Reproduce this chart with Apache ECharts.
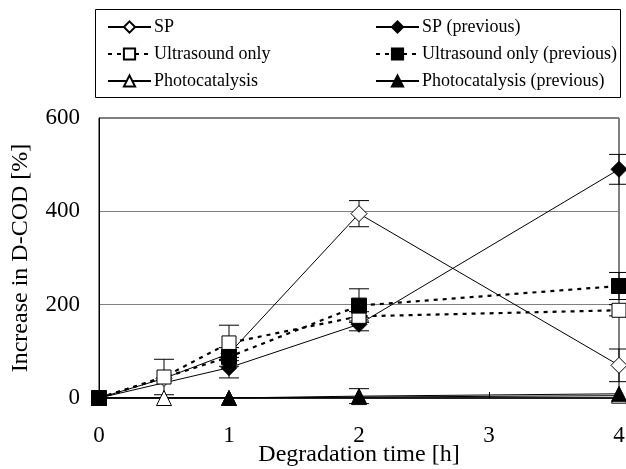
<!DOCTYPE html>
<html>
<head>
<meta charset="utf-8">
<script src="https://cdn.jsdelivr.net/npm/echarts@6/dist/echarts.min.js"></script>
<style>
html, body { margin: 0; padding: 0; background: #fff; }
#chart { width: 626px; height: 469px; }
</style>
</head>
<body>
<div id="chart"></div>
<script>
// data
var names = ['SP', 'SP (previous)', 'Ultrasound only', 'Ultrasound only (previous)', 'Photocatalysis', 'Photocatalysis (previous)'];

var spX = [0, 0.5, 1, 2, 4];
var spY = [0, 42, 95, 395, 70];
var spErr = [0, 0, 0, 28, 35];

var spPrevX = [0, 1, 2, 4];
var spPrevY = [0, 65, 158, 490];
var spPrevErr = [0, 22, 14, 32];

var usX = [0, 0.5, 1, 2, 4];
var usY = [0, 45, 118, 175, 188];
var usErr = [0, 38, 38, 10, 12];

var usPrevX = [0, 1, 2, 4];
var usPrevY = [0, 88, 198, 240];
var usPrevErr = [0, 20, 36, 29];

var pcX = [0, 0.5, 1, 2, 4];
var pcY = [0, 0, 0, 2, 5];
var pcErr = [0, 0, 0, 0, 0];

var pcPrevX = [0, 1, 2, 4];
var pcPrevY = [0, 0, 4, 9];
var pcPrevErr = [0, 0, 16, 0];

var font = 'Liberation Serif';

function pairs(xs, ys) {
    var out = [];
    for (var i = 0; i < xs.length; i++) out.push([xs[i], ys[i]]);
    return out;
}

function errRows(xs, ys, es) {
    var out = [];
    for (var i = 0; i < xs.length; i++) {
        if (es[i] > 0) out.push([xs[i], ys[i] - es[i], ys[i] + es[i]]);
    }
    return out;
}

var allErr = [].concat(
    errRows(spX, spY, spErr),
    errRows(spPrevX, spPrevY, spPrevErr),
    errRows(usX, usY, usErr),
    errRows(usPrevX, usPrevY, usPrevErr),
    errRows(pcX, pcY, pcErr),
    errRows(pcPrevX, pcPrevY, pcPrevErr)
);

function lineSeries(name, xs, ys, symbol, filled, dotted, size) {
    return {
        name: name,
        type: 'line',
        data: pairs(xs, ys),
        symbol: symbol,
        symbolSize: size,
        z: 3,
        lineStyle: {
            color: '#000',
            width: dotted ? 2.2 : 1,
            type: dotted ? [4, 5] : 'solid'
        },
        itemStyle: {
            color: filled ? '#000' : '#fff',
            borderColor: '#000',
            borderWidth: 1
        }
    };
}

function legendCol(left, data) {
    return {
        orient: 'vertical',
        left: left,
        top: 13,
        itemWidth: 43,
        itemHeight: 14,
        itemGap: 9,
        textStyle: {fontFamily: font, fontSize: 18, color: '#000', padding: [0, 0, 0, -2]},
        data: data
    };
}

var chart = echarts.init(document.getElementById('chart'), null, {renderer: 'canvas'});
chart.setOption({
    animation: false,
    backgroundColor: '#fff',
    grid: {
        left: 99,
        right: 7,
        top: 118,
        bottom: 71,
        show: true,
        borderColor: '#000',
        borderWidth: 1,
        outerBoundsMode: 'none',
        containLabel: false
    },
    graphic: [{
        type: 'rect',
        shape: {x: 95.5, y: 9.5, width: 525, height: 88},
        style: {fill: 'none', stroke: '#000', lineWidth: 1},
        z: 0
    }],
    legend: [
        legendCol(102, [names[0], names[2], names[4]]),
        legendCol(370, [names[1], names[3], names[5]])
    ],
    xAxis: {
        type: 'value',
        min: 0,
        max: 4,
        interval: 1,
        name: 'Degradation time [h]',
        nameLocation: 'middle',
        nameGap: 45,
        nameMoveOverlap: false,
        nameTextStyle: {fontFamily: font, fontSize: 24, color: '#000'},
        axisLine: {lineStyle: {color: '#000', width: 1.5}},
        axisTick: {inside: true, length: 6, lineStyle: {color: '#000'}},
        axisLabel: {fontFamily: font, fontSize: 23, color: '#000', margin: 26},
        splitLine: {show: false}
    },
    yAxis: {
        type: 'value',
        min: 0,
        max: 600,
        interval: 200,
        name: 'Increase in D-COD [%]',
        nameLocation: 'middle',
        nameGap: 66,
        nameMoveOverlap: false,
        nameTextStyle: {fontFamily: font, fontSize: 24, color: '#000'},
        axisLine: {show: true, lineStyle: {color: '#000'}},
        axisTick: {show: false},
        axisLabel: {fontFamily: font, fontSize: 23, color: '#000', margin: 19},
        splitLine: {lineStyle: {color: '#808080', width: 1}}
    },
    series: [
        lineSeries(names[0], spX, spY, 'diamond', false, false, 16),
        lineSeries(names[1], spPrevX, spPrevY, 'diamond', true, false, 16),
        lineSeries(names[2], usX, usY, 'rect', false, true, 14),
        lineSeries(names[3], usPrevX, usPrevY, 'rect', true, true, 15),
        lineSeries(names[4], pcX, pcY, 'triangle', false, false, 15),
        lineSeries(names[5], pcPrevX, pcPrevY, 'triangle', true, false, 15),
        {
            type: 'custom',
            name: 'error',
            data: allErr,
            z: 2,
            silent: true,
            renderItem: function (params, api) {
                var lo = api.coord([api.value(0), api.value(1)]);
                var hi = api.coord([api.value(0), api.value(2)]);
                var w = 10;
                var st = {stroke: '#000', lineWidth: 1};
                return {
                    type: 'group',
                    children: [
                        {type: 'line', shape: {x1: lo[0], y1: lo[1], x2: hi[0], y2: hi[1]}, style: st},
                        {type: 'line', shape: {x1: lo[0] - w, y1: lo[1], x2: lo[0] + w, y2: lo[1]}, style: st},
                        {type: 'line', shape: {x1: hi[0] - w, y1: hi[1], x2: hi[0] + w, y2: hi[1]}, style: st}
                    ]
                };
            }
        }
    ]
});
</script>
</body>
</html>
